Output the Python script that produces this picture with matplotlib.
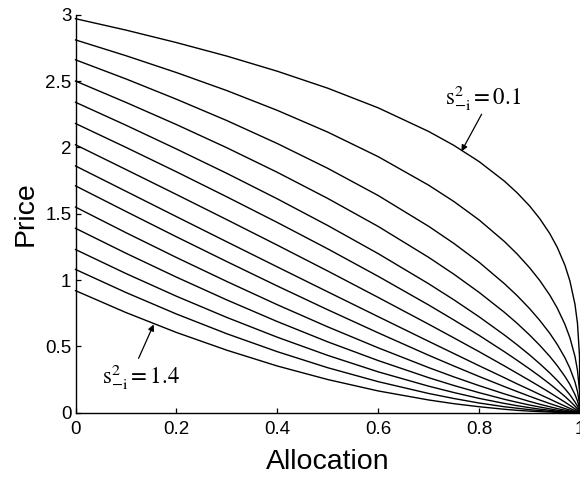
import numpy as np
import matplotlib
matplotlib.use('Agg')
import matplotlib.pyplot as plt
from matplotlib.ticker import FuncFormatter

plt.rcParams['font.family'] = ['Liberation Sans', 'DejaVu Sans']
plt.rcParams['mathtext.fontset'] = 'stix'

# allocation grid (x) and price curves, s^2 = 0.1 ... 1.4
allocation = [0, 0.1, 0.2, 0.3, 0.4, 0.5, 0.6, 0.7, 0.75, 0.8, 0.85, 0.875, 0.9,
              0.92, 0.94, 0.955, 0.97, 0.98, 0.99, 0.995, 0.999, 1.0]

price_01 = [2.97, 2.884, 2.790, 2.688, 2.574, 2.446, 2.298, 2.120, 2.015, 1.893, 1.746,
            1.659, 1.559, 1.464, 1.351, 1.246, 1.113, 0.993, 0.818, 0.674, 0.429, 0]
price_02 = [2.81, 2.691, 2.564, 2.428, 2.279, 2.115, 1.930, 1.715, 1.592, 1.453, 1.291,
            1.198, 1.093, 0.998, 0.887, 0.788, 0.667, 0.565, 0.425, 0.320, 0.166, 0]
price_03 = [2.66, 2.516, 2.363, 2.202, 2.029, 1.842, 1.637, 1.405, 1.276, 1.134, 0.973,
            0.884, 0.785, 0.697, 0.599, 0.514, 0.415, 0.335, 0.232, 0.160, 0.068, 0]
price_04 = [2.50, 2.339, 2.172, 1.997, 1.812, 1.615, 1.404, 1.171, 1.044, 0.907, 0.757,
            0.675, 0.586, 0.509, 0.425, 0.354, 0.274, 0.213, 0.137, 0.089, 0.032, 0]
price_05 = [2.34, 2.167, 1.988, 1.804, 1.612, 1.411, 1.199, 0.972, 0.851, 0.723, 0.586,
            0.513, 0.436, 0.370, 0.300, 0.243, 0.181, 0.135, 0.081, 0.049, 0.015, 0]
price_06 = [2.18, 2.000, 1.816, 1.627, 1.434, 1.235, 1.028, 0.812, 0.699, 0.583, 0.460,
            0.396, 0.330, 0.275, 0.217, 0.171, 0.123, 0.088, 0.050, 0.028, 0.008, 0]
price_07 = [2.02, 1.833, 1.645, 1.455, 1.263, 1.068, 0.869, 0.667, 0.564, 0.460, 0.353,
            0.298, 0.243, 0.198, 0.152, 0.116, 0.080, 0.055, 0.029, 0.015, 0.004, 0]
price_08 = [1.86, 1.669, 1.478, 1.288, 1.099, 0.911, 0.724, 0.538, 0.446, 0.354, 0.264,
            0.218, 0.174, 0.138, 0.103, 0.076, 0.050, 0.033, 0.016, 0.008, 0.002, 0]
price_09 = [1.71, 1.517, 1.326, 1.139, 0.955, 0.776, 0.602, 0.433, 0.352, 0.273, 0.197,
            0.160, 0.124, 0.096, 0.069, 0.050, 0.031, 0.020, 0.009, 0.004, 0.001, 0]
price_10 = [1.55, 1.357, 1.170, 0.989, 0.814, 0.647, 0.489, 0.340, 0.270, 0.204, 0.142,
            0.113, 0.085, 0.064, 0.045, 0.031, 0.019, 0.011, 0.005, 0.002, 0.000, 0]
price_11 = [1.39, 1.202, 1.022, 0.850, 0.687, 0.534, 0.393, 0.264, 0.205, 0.151, 0.101,
            0.079, 0.058, 0.043, 0.029, 0.019, 0.011, 0.006, 0.002, 0.001, 0.000, 0]
price_12 = [1.23, 1.049, 0.878, 0.718, 0.569, 0.432, 0.308, 0.200, 0.152, 0.108, 0.070,
            0.053, 0.038, 0.027, 0.018, 0.011, 0.006, 0.003, 0.001, 0.000, 0.000, 0]
price_13 = [1.08, 0.906, 0.744, 0.595, 0.460, 0.339, 0.234, 0.145, 0.107, 0.073, 0.045,
            0.034, 0.023, 0.016, 0.010, 0.006, 0.003, 0.002, 0.000, 0.000, 0.000, 0]
price_14 = [0.92, 0.755, 0.605, 0.471, 0.352, 0.250, 0.164, 0.096, 0.068, 0.045, 0.026,
            0.018, 0.012, 0.008, 0.005, 0.003, 0.001, 0.001, 0.000, 0.000, 0.000, 0]

curves = [price_01, price_02, price_03, price_04, price_05, price_06, price_07,
          price_08, price_09, price_10, price_11, price_12, price_13, price_14]

xticks = [0, 0.2, 0.4, 0.6, 0.8, 1.0]
yticks = [0, 0.5, 1, 1.5, 2, 2.5, 3]


def fmt(v, pos=None):
    return '%g' % v


fig = plt.figure(figsize=(5.8, 4.84), dpi=100)
ax = fig.add_axes([0.1302, 0.1473, 0.8698, 0.8223])

for p in curves:
    ax.plot(allocation, p, color='k', lw=1.0, clip_on=False)

ax.set_xlim(0, 1)
ax.set_ylim(0, 3)
ax.set_xticks(xticks)
ax.set_yticks(yticks)
ax.xaxis.set_major_formatter(FuncFormatter(fmt))
ax.yaxis.set_major_formatter(FuncFormatter(fmt))
ax.tick_params(direction='in', length=3.5, width=0.9, labelsize=13.5)
ax.tick_params(axis='x', pad=6)
ax.tick_params(axis='y', pad=3)
for s in ['top', 'right']:
    ax.spines[s].set_visible(False)
for s in ['left', 'bottom']:
    ax.spines[s].set_linewidth(1.0)

ax.set_xlabel('Allocation', fontsize=20.5, labelpad=8)
ax.set_ylabel('Price', fontsize=20.5, labelpad=5)

arrow = dict(arrowstyle='-|>', color='k', lw=0.9, mutation_scale=9,
             shrinkA=0, shrinkB=0)
ax.annotate('', xy=(0.765, 1.97), xytext=(0.805, 2.25), arrowprops=arrow)
ax.text(0.808, 2.37, r'$\mathrm{s}_{\mathrm{-i}}^{2} = 0.1$', fontsize=16.5,
        ha='center', va='center')
ax.annotate('', xy=(0.155, 0.665), xytext=(0.125, 0.41), arrowprops=arrow)
ax.text(0.13, 0.27, r'$\mathrm{s}_{\mathrm{-i}}^{2} = 1.4$', fontsize=16.5,
        ha='center', va='center')

fig.savefig('out.png', dpi=100)
